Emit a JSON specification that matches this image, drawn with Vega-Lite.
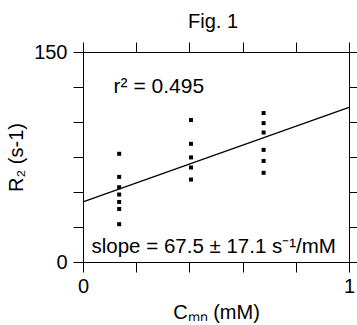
{
  "$schema": "https://vega.github.io/schema/vega-lite/v6.json",
  "width": 266,
  "height": 210,
  "autosize": "none",
  "padding": {"left": 83, "top": 52, "right": 8, "bottom": 63},
  "background": "white",
  "title": {"text": "Fig. 1", "fontSize": 20, "font": "Liberation Sans", "fontWeight": "normal", "color": "black", "anchor": "middle", "offset": 10, "dx": -3},
  "config": {
    "view": {"stroke": null},
    "axis": {
      "grid": false, "domainColor": "black", "tickColor": "black", "labelColor": "black", "titleColor": "black",
      "domainWidth": 1, "tickWidth": 1, "tickSize": 10,
      "labelFont": "Liberation Sans", "titleFont": "Liberation Sans", "labelFontSize": 20, "titleFontSize": 20,
      "titleFontWeight": "normal", "labelFlush": false, "labelOverlap": false
    }
  },
  "datasets": {
    "points": [
      {"conc": 0.136, "r2": 77.3}, {"conc": 0.136, "r2": 60.8}, {"conc": 0.136, "r2": 53.4}, {"conc": 0.136, "r2": 48.2},
      {"conc": 0.136, "r2": 42.9}, {"conc": 0.136, "r2": 37.9}, {"conc": 0.136, "r2": 27.0},
      {"conc": 0.406, "r2": 101.4}, {"conc": 0.406, "r2": 84.4}, {"conc": 0.406, "r2": 74.7}, {"conc": 0.406, "r2": 67.5}, {"conc": 0.406, "r2": 58.9},
      {"conc": 0.679, "r2": 106.4}, {"conc": 0.679, "r2": 99.2}, {"conc": 0.679, "r2": 92.5}, {"conc": 0.679, "r2": 80.1},
      {"conc": 0.679, "r2": 72.2}, {"conc": 0.679, "r2": 63.7}
    ],
    "fit": [{"conc": 0, "r2": 42.9}, {"conc": 1, "r2": 110.4}]
  },
  "layer": [
    {
      "data": {"name": "points"},
      "mark": {"type": "point", "shape": "square", "filled": true, "color": "black", "opacity": 1, "size": 16},
      "encoding": {
        "x": {"field": "conc", "type": "quantitative", "scale": {"domain": [0, 1], "nice": false},
              "axis": {"orient": "bottom", "values": [0, 0.2, 0.4, 0.6, 0.8, 1], "labelExpr": "datum.value == 0 ? '0' : datum.value == 1 ? '1' : ''", "labelPadding": 4, "title": "Cₘₙ (mM)", "titlePadding": 6}},
        "y": {"field": "r2", "type": "quantitative", "scale": {"domain": [0, 150], "nice": false},
              "axis": {"orient": "left", "values": [0, 25, 50, 75, 100, 125, 150], "labelExpr": "datum.value == 0 ? '0' : datum.value == 150 ? '150' : ''", "labelPadding": 6, "title": "R₂ (s-1)", "titlePadding": 7}}
      }
    },
    {
      "data": {"name": "fit"},
      "mark": {"type": "line", "color": "black", "strokeWidth": 1.2},
      "encoding": {
        "x": {"field": "conc", "type": "quantitative", "axis": {"orient": "top", "values": [0, 0.2, 0.4, 0.6, 0.8, 1], "labels": false, "title": null}},
        "y": {"field": "r2", "type": "quantitative", "axis": {"orient": "right", "values": [0, 25, 50, 75, 100, 125, 150], "labels": false, "title": null}}
      }
    },
    {
      "data": {"values": [{"label": "r² = 0.495"}]},
      "mark": {"type": "text", "align": "left", "baseline": "alphabetic", "fontSize": 21, "font": "Liberation Sans", "color": "black"},
      "encoding": {
        "x": {"datum": 0.115, "type": "quantitative", "axis": null},
        "y": {"datum": 120.7, "type": "quantitative", "axis": null},
        "text": {"field": "label"}
      }
    },
    {
      "data": {"values": [{"label": "slope = 67.5 ± 17.1 s⁻¹/mM"}]},
      "mark": {"type": "text", "align": "left", "baseline": "alphabetic", "fontSize": 20.5, "font": "Liberation Sans", "color": "black"},
      "encoding": {
        "x": {"datum": 0.032, "type": "quantitative", "axis": null},
        "y": {"datum": 6.6, "type": "quantitative", "axis": null},
        "text": {"field": "label"}
      }
    }
  ],
  "resolve": {"axis": {"x": "independent", "y": "independent"}}
}
